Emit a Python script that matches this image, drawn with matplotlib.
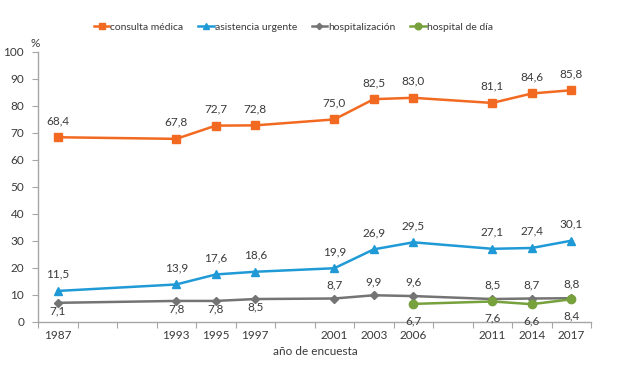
import numpy as np
import matplotlib
matplotlib.use("Agg")
import matplotlib.pyplot as plt

plt.rcParams['font.family'] = ['Lato', 'DejaVu Sans']

# category slots on the x axis (blank slots keep the gaps between survey years)
slots = ['1987', '', '', '1993', '1995', '1997', '', '2001', '2003', '2006', '', '2011', '2014', '2017']
years = ['1987', '1993', '1995', '1997', '2001', '2003', '2006', '2011', '2014', '2017']
consulta = [68.4, 67.8, 72.7, 72.8, 75.0, 82.5, 83.0, 81.1, 84.6, 85.8]
urgente = [11.5, 13.9, 17.6, 18.6, 19.9, 26.9, 29.5, 27.1, 27.4, 30.1]
hospitalizacion = [7.1, 7.8, 7.8, 8.5, 8.7, 9.9, 9.6, 8.5, 8.7, 8.8]
dia_years = ['2006', '2011', '2014', '2017']
hospital_dia = [6.7, 7.6, 6.6, 8.4]

def fmt(v):
    return ('%.1f' % v).replace('.', ',')

xpos = [slots.index(y) for y in years]
xdia = [slots.index(y) for y in dia_years]

c_or = '#F26A21'
c_bl = '#1F9AD6'
c_gr = '#747474'
c_gn = '#76A13C'
axc = '#A6A6A6'
tc = '#3A3A3A'

fig = plt.figure(figsize=(6.2, 3.68), dpi=100, facecolor='w')
ax = fig.add_axes([0.0613, 0.125, 0.892, 0.734])

l1, = ax.plot(xpos, consulta, color=c_or, lw=1.8, marker='s', ms=6, label='consulta médica')
l2, = ax.plot(xpos, urgente, color=c_bl, lw=1.8, marker='^', ms=6, label='asistencia urgente')
l3, = ax.plot(xpos, hospitalizacion, color=c_gr, lw=1.8, marker='D', ms=4, label='hospitalización')
l4, = ax.plot(xdia, hospital_dia, color=c_gn, lw=1.8, marker='o', ms=6, label='hospital de día')

for x, v in zip(xpos, consulta):
    ax.annotate(fmt(v), (x, v), xytext=(0, 8), textcoords='offset points',
                ha='center', va='bottom', fontsize=8.5, color=tc)
for x, v in zip(xpos, urgente):
    ax.annotate(fmt(v), (x, v), xytext=(0, 8), textcoords='offset points',
                ha='center', va='bottom', fontsize=8.5, color=tc)
for i, (x, v) in enumerate(zip(xpos, hospitalizacion)):
    if i < 4:
        ax.annotate(fmt(v), (x, v), xytext=(0, -2), textcoords='offset points',
                    ha='center', va='top', fontsize=8.5, color=tc)
    else:
        ax.annotate(fmt(v), (x, v), xytext=(0, 6), textcoords='offset points',
                    ha='center', va='bottom', fontsize=8.5, color=tc)
for x, v in zip(xdia, hospital_dia):
    ax.annotate(fmt(v), (x, v), xytext=(0, -8), textcoords='offset points',
                ha='center', va='top', fontsize=8.5, color=tc)

ax.set_xlim(-0.5, len(slots) - 0.5)
ax.set_ylim(0, 100)
ax.set_yticks(np.arange(0, 101, 10))
ax.set_xticks(np.arange(-0.5, len(slots), 1.0))
ax.set_xticklabels([])
ax.set_xticks(np.arange(len(slots)), minor=True)
ax.set_xticklabels(slots, minor=True)
ax.tick_params(axis='x', which='minor', length=0, pad=6, labelsize=8.5, labelcolor=tc)
ax.tick_params(axis='x', which='major', length=4, color=axc, direction='out')
ax.tick_params(axis='y', length=4, color=axc, labelsize=8.5, labelcolor=tc, direction='out', pad=6)
for s in ['top', 'right']:
    ax.spines[s].set_visible(False)
for s in ['left', 'bottom']:
    ax.spines[s].set_color(axc)
    ax.spines[s].set_linewidth(1)

fig.text(0.056, 0.872, '%', fontsize=8.5, color=tc, ha='center')
fig.text(0.508, 0.035, 'año de encuesta', fontsize=8.5, color=tc, ha='center')

fig.legend(handles=[l1, l2, l3, l4], loc='center', bbox_to_anchor=(0.473, 0.927),
           ncol=4, frameon=False, fontsize=7.5, handlelength=1.5, handletextpad=0.1,
           columnspacing=1.4, labelcolor=tc, markerscale=0.8)

plt.savefig('out.png', dpi=100)
